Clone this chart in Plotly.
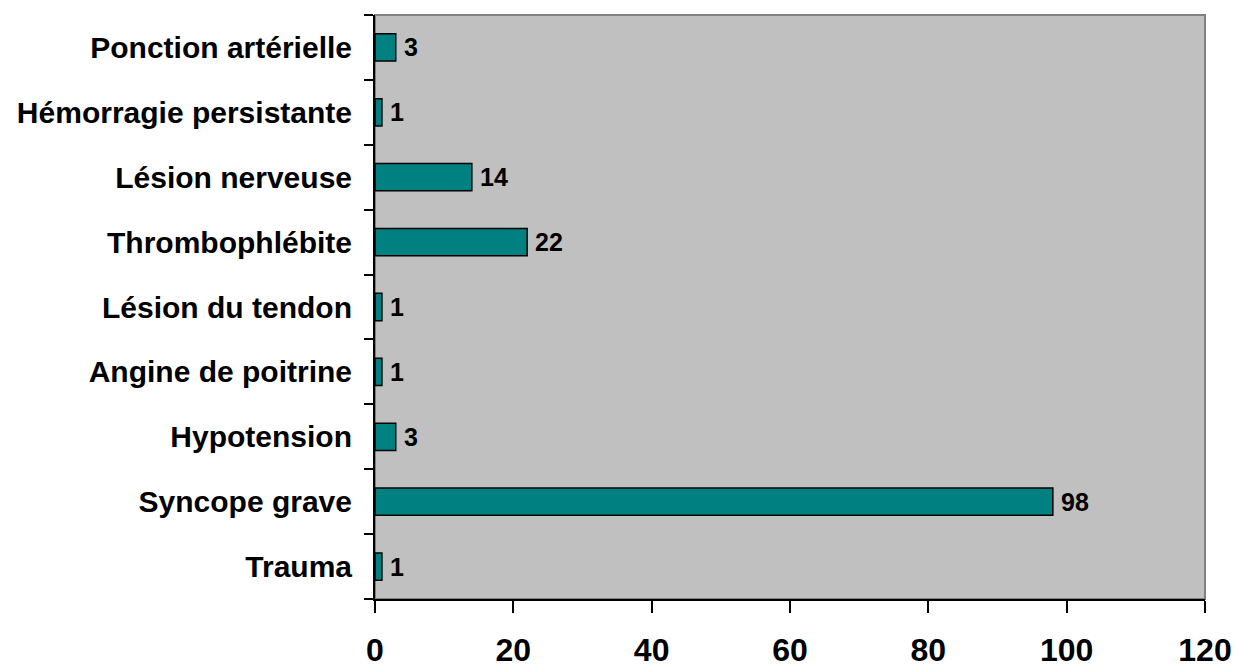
import plotly.graph_objects as go

categories = ["Trauma", "Syncope grave", "Hypotension", "Angine de poitrine",
              "Lésion du tendon", "Thrombophlébite", "Lésion nerveuse",
              "Hémorragie persistante", "Ponction artérielle"]
values = [1, 98, 3, 1, 1, 22, 14, 1, 3]
x_ticks = [0, 20, 40, 60, 80, 100, 120]

FONT = "Arial, Liberation Sans, sans-serif"

fig = go.Figure()
fig.add_trace(go.Bar(
    x=values, y=categories, orientation="h",
    marker=dict(color="#008080", line=dict(color="#000000", width=1.5)),
    hoverinfo="skip",
))

for c, v in zip(categories, values):
    fig.add_annotation(x=v, y=c, text=f"<b>{v}</b>", showarrow=False,
                       xanchor="left", yanchor="middle", xshift=6,
                       font=dict(family=FONT, size=25, color="#000000"))

# grey frame on top/right of plot area
fig.add_shape(type="rect", xref="paper", yref="paper", x0=0, y0=0, x1=1, y1=1,
              line=dict(color="#808080", width=2), layer="below")

fig.update_layout(
    width=1238, height=668,
    margin=dict(l=375, r=33, t=15, b=69, autoexpand=False),
    paper_bgcolor="#FFFFFF", plot_bgcolor="#C0C0C0",
    bargap=0.58, showlegend=False,
    font=dict(family=FONT, color="#000000"),
)
fig.update_xaxes(
    range=[0, 120], tickvals=x_ticks, ticktext=[f"<b>{t}</b>" for t in x_ticks],
    showgrid=False, zeroline=False, automargin=False,
    showline=True, linecolor="#000000", linewidth=2,
    ticks="outside", ticklen=12, tickwidth=2, tickcolor="#000000",
    tickfont=dict(family=FONT, size=32, color="#000000"),
    ticklabelstandoff=10,
)
fig.update_yaxes(
    type="category", categoryorder="array", categoryarray=categories,
    range=[-0.5, len(categories) - 0.5],
    ticktext=[f"<b>{c}</b>" for c in categories], tickvals=categories,
    showgrid=False, zeroline=False, automargin=False,
    showline=True, linecolor="#000000", linewidth=2,
    ticks="outside", ticklen=9, tickwidth=2, tickcolor="#000000",
    tickson="boundaries",
    tickfont=dict(family=FONT, size=30, color="#000000"),
    ticklabelstandoff=15,
)

fig.write_html("out.html")
